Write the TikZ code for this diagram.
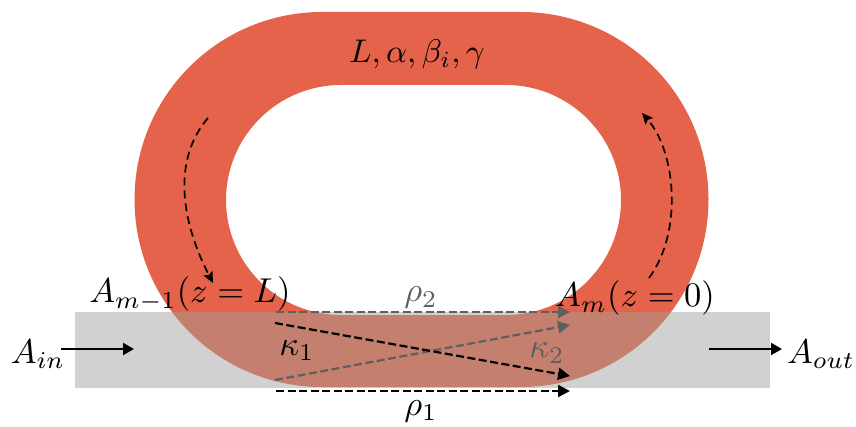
\documentclass[tikz,border=0pt]{standalone}
\usetikzlibrary{arrows.meta}
\definecolor{ringred}{HTML}{E4634A}
\definecolor{guidegray}{HTML}{D1D1D1}
\definecolor{overlapc}{HTML}{C47F6E}
\definecolor{darkg}{HTML}{5F5F5F}
\newcommand{\ringpath}{(322,414) -- (521,414) arc[start angle=90,end angle=-90,radius=187.5] -- (322,39) arc[start angle=270,end angle=90,radius=187.5] -- cycle
 (341,341) -- (506,341) arc[start angle=90,end angle=-90,radius=115] -- (341,111) arc[start angle=270,end angle=90,radius=115] -- cycle}
\tikzset{
 lab/.style={inner sep=0pt,outer sep=0pt,scale=3.45,anchor=base},
 solidarrow/.style={line width=2.2pt,-{Stealth[length=11pt,width=12pt,inset=0pt]}},
 dasharrow/.style={line width=2.2pt,dash pattern=on 8pt off 3.5pt,-{Stealth[length=12pt,width=12pt,inset=0pt]}},
 looparrow/.style={line width=1.7pt,dash pattern=on 8pt off 5pt,-{Stealth[length=11pt,width=10pt,inset=2pt]}},
}
\begin{document}
\begin{tikzpicture}[x=1pt,y=1pt]
\useasboundingbox (0,0) rectangle (856,426);
\fill[ringred,even odd rule] \ringpath;
\fill[guidegray] (75,38) rectangle (770,114);
\begin{scope}
 \clip (75,38) rectangle (770,114);
 \fill[overlapc,even odd rule] \ringpath;
\end{scope}
\node[lab,scale=0.95] (params) at (417,363) {$L,\alpha,\beta_i,\gamma$};
\node[lab] (amm) at (190,123) {$A_{m-1}(z=L)$};
\node[lab] (am) at (635,119) {$A_m(z=0)$};
\node[lab] (ain) at (38,63) {$A_{in}$};
\node[lab] (aout) at (821,63) {$A_{out}$};
\node[lab,text=darkg] (rho2) at (421,124) {$\rho_2$};
\node[lab] (rho1) at (421,11) {$\rho_1$};
\node[lab] (kap1) at (297,71) {$\kappa_1$};
\node[lab,text=darkg] (kap2) at (547,68) {$\kappa_2$};
\coordinate (ainE) at (61,77);
\coordinate (ainT) at (134,77);
\coordinate (aoutS) at (709,77);
\coordinate (aoutE) at (782,77);
\coordinate (r2s) at (276,114);
\coordinate (r2e) at (570,114);
\coordinate (r1s) at (276,35);
\coordinate (r1e) at (570,35);
\coordinate (k1s) at (275,103);
\coordinate (k1e) at (570,50);
\coordinate (k2s) at (275,46);
\coordinate (k2e) at (570,101);
\coordinate (ls) at (208,308);
\coordinate (le) at (213,143);
\coordinate (rs) at (649,148);
\coordinate (re) at (642,313);
\draw[solidarrow] (ainE) -- (ainT);
\draw[solidarrow] (aoutS) -- (aoutE);
\draw[dasharrow,darkg] (r2s) -- (r2e);
\draw[dasharrow,darkg] (k2s) -- (k2e);
\draw[dasharrow] (k1s) -- (k1e);
\draw[dasharrow] (r1s) -- (r1e);
\draw[looparrow] (ls) .. controls (172,266) and (181,205) .. (le);
\draw[looparrow] (rs) .. controls (683,194) and (676,274) .. (re);
\end{tikzpicture}
\end{document}
